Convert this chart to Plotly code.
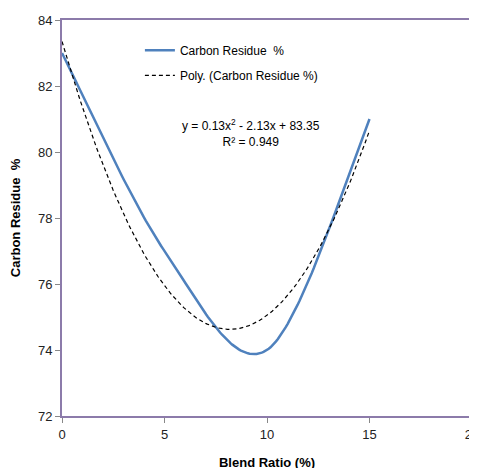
import numpy as np
import plotly.graph_objects as go

blend_ratio = [0, 5, 10, 15]
carbon_residue = [83, 77, 74, 81]
poly_coeffs = [0.13, -2.13, 83.35]
eq_lines = ["y = 0.13x<sup>2</sup> - 2.13x + 83.35", "R² = 0.949"]
x_ticks = [0, 5, 10, 15, 20]
y_ticks = [72, 74, 76, 78, 80, 82, 84]

FONT = "Liberation Sans, Arial, sans-serif"
BORDER = "#8C7BAA"


def smooth_curve(xs, ys, n=60):
    """Catmull-Rom style Bezier smoothing (like a spreadsheet 'smoothed line')."""
    p = np.column_stack([xs, ys]).astype(float)
    out = []
    for i in range(len(p) - 1):
        p0 = p[i]
        p3 = p[i + 1]
        prev = p[i - 1] if i > 0 else p[i]
        nxt = p[i + 2] if i + 2 < len(p) else p[i + 1]
        c1 = p0 + (p3 - prev) / 6.0
        c2 = p3 - (nxt - p0) / 6.0
        t = np.linspace(0, 1, n)[:, None]
        seg = ((1 - t) ** 3) * p0 + 3 * t * (1 - t) ** 2 * c1 + 3 * t ** 2 * (1 - t) * c2 + t ** 3 * p3
        out.append(seg if i == 0 else seg[1:])
    arr = np.vstack(out)
    return arr[:, 0], arr[:, 1]


sx, sy = smooth_curve(blend_ratio, carbon_residue)
xf = np.linspace(min(blend_ratio), max(blend_ratio), 200)
yf = np.polyval(poly_coeffs, xf)

fig = go.Figure()
fig.add_trace(go.Scatter(
    x=sx, y=sy, mode="lines",
    line=dict(color="#4F81BD", width=2.5),
    name="Carbon Residue  %", legendgroup="a"))
fig.add_trace(go.Scatter(
    x=xf, y=yf, mode="lines",
    line=dict(color="black", width=1.2, dash="4px,3px"),
    name="Poly. (Carbon Residue %)", legendgroup="b"))

fig.add_annotation(
    x=0.46, y=0.76, xref="paper", yref="paper", xanchor="center", yanchor="top",
    text="<br>".join(eq_lines), showarrow=False, align="center",
    font=dict(family=FONT, size=12, color="black"))

axis_common = dict(
    showline=True, linecolor=BORDER, linewidth=2, mirror=True,
    showgrid=False, zeroline=False, ticks="outside", ticklen=5,
    tickcolor="#888888", automargin=False, ticklabeloverflow="allow",
    tickfont=dict(family=FONT, size=13, color="#222222"))

fig.update_layout(
    width=477, height=468,
    margin=dict(l=54, r=13, t=12, b=60),
    paper_bgcolor="white", plot_bgcolor="white",
    showlegend=True,
    legend=dict(x=0.19, y=0.96, xanchor="left", yanchor="top",
                bgcolor="rgba(0,0,0,0)", tracegroupgap=6,
                font=dict(family=FONT, size=12, color="black")),
    xaxis=dict(range=[0, 20], tickvals=x_ticks,
               title=dict(text="<b>Blend Ratio (%)</b>", standoff=17,
                          font=dict(family=FONT, size=13, color="black")),
               **axis_common),
    yaxis=dict(range=[72, 84], tickvals=y_ticks,
               title=dict(text="<b>Carbon Residue  %</b>", standoff=16,
                          font=dict(family=FONT, size=13, color="black")),
               **axis_common),
)

fig.write_html("out.html")
